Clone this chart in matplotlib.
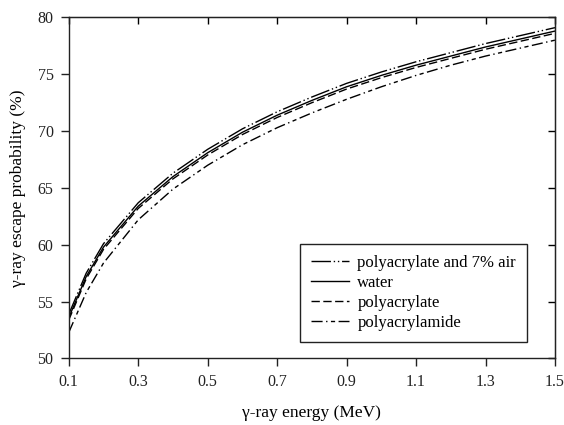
import numpy as np
import matplotlib
matplotlib.use("Agg")
import matplotlib.pyplot as plt

plt.rcParams['font.family'] = ['Liberation Serif', 'DejaVu Serif']

# gamma-ray energy (MeV)
energy = [0.1, 0.15, 0.2, 0.3, 0.4, 0.5, 0.6, 0.7, 0.8, 0.9, 1.0, 1.1, 1.2, 1.3, 1.4, 1.5]

# escape probability (%)
air7 = [53.9, 57.5, 60.1, 63.7, 66.3, 68.4, 70.2, 71.7, 73.0, 74.2, 75.2, 76.1, 76.9, 77.7, 78.4, 79.1]
water = [53.6, 57.2, 59.8, 63.4, 66.0, 68.1, 69.9, 71.4, 72.7, 73.9, 74.9, 75.8, 76.6, 77.4, 78.1, 78.8]
polyacrylate = [53.4, 57.0, 59.6, 63.2, 65.8, 67.9, 69.7, 71.2, 72.5, 73.7, 74.7, 75.6, 76.4, 77.2, 77.9, 78.6]
polyacrylamide = [52.3, 55.8, 58.4, 62.2, 64.9, 67.0, 68.8, 70.3, 71.6, 72.8, 73.9, 74.9, 75.8, 76.6, 77.3, 78.0]

fig = plt.figure(figsize=(5.64, 4.25), dpi=100)
ax = fig.add_axes([0.122, 0.1565, 0.862, 0.8025])

lw = 1.0
ax.plot(energy, air7, color='black', lw=lw, dashes=[14, 2, 1, 2, 1, 2], label='polyacrylate and 7% air')
ax.plot(energy, water, color='black', lw=lw, linestyle='-', label='water')
ax.plot(energy, polyacrylate, color='black', lw=lw, dashes=[6, 2.5], label='polyacrylate')
ax.plot(energy, polyacrylamide, color='black', lw=lw, dashes=[8, 2.5, 1, 2.5, 3, 2.5], label='polyacrylamide')

ax.set_xlim(0.1, 1.5)
ax.set_ylim(50, 80)
ax.set_xticks(np.arange(0.1, 1.51, 0.2))
ax.set_xticklabels(['0.1', '0.3', '0.5', '0.7', '0.9', '1.1', '1.3', '1.5'])
ax.set_yticks(range(50, 81, 5))
ax.tick_params(direction='out', length=6, width=1, pad=5, labelsize=11.5, colors='#222222')
for s in ax.spines.values():
    s.set_linewidth(1.0)
    s.set_color('#222222')

# top/right ticks point inward
top = ax.secondary_xaxis('top')
top.set_xticks(np.arange(0.1, 1.51, 0.2))
top.tick_params(direction='in', length=5, width=1, labeltop=False)
right = ax.secondary_yaxis('right')
right.set_yticks(range(50, 81, 5))
right.tick_params(direction='in', length=5, width=1, labelright=False)

ax.set_xlabel('γ-ray energy (MeV)', fontsize=12.5, labelpad=11)
ax.set_ylabel('γ-ray escape probability (%)', fontsize=12.5, labelpad=8)

leg = ax.legend(loc='lower right', bbox_to_anchor=(0.942, 0.048), borderaxespad=0,
                fancybox=False, edgecolor='#222222', framealpha=1, fontsize=12,
                handlelength=2.3, borderpad=0.65, labelspacing=0.25, handletextpad=0.5)
leg.get_frame().set_linewidth(1.0)

fig.savefig('out.png', dpi=100)
